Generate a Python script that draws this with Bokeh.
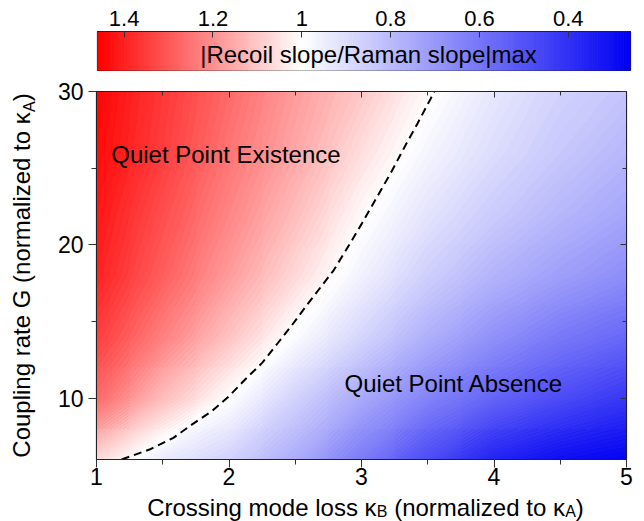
import numpy as np
from bokeh.plotting import figure
from bokeh.models import (Range1d, LinearColorMapper, SingleIntervalTicker, FixedTicker,
                          LinearAxis, Label, CustomJSTickFormatter, ColumnDataSource)
from bokeh.layouts import column, row
from bokeh.embed import file_html
from bokeh.resources import INLINE

# ---------------- data ----------------
kappa_b = [1.0, 1.5, 2.0, 2.5, 3.0, 3.5, 4.0, 4.5, 5.0]
coupling_g = [6, 10, 14, 18, 22, 26, 30]
ratio_g6 = [1.07, 0.94, 0.87, 0.76, 0.62, 0.48, 0.36, 0.30, 0.27]
ratio_g10 = [1.27, 1.12, 1.00, 0.87, 0.75, 0.64, 0.55, 0.48, 0.42]
ratio_g14 = [1.35, 1.23, 1.11, 0.99, 0.88, 0.77, 0.68, 0.61, 0.56]
ratio_g18 = [1.40, 1.29, 1.18, 1.07, 0.96, 0.86, 0.78, 0.72, 0.67]
ratio_g22 = [1.42, 1.32, 1.22, 1.12, 1.01, 0.92, 0.85, 0.79, 0.74]
ratio_g26 = [1.44, 1.35, 1.25, 1.16, 1.06, 0.97, 0.90, 0.84, 0.79]
ratio_g30 = [1.45, 1.36, 1.27, 1.18, 1.10, 1.01, 0.93, 0.87, 0.83]

boundary_kb = [1.19, 1.40, 1.58, 1.73, 1.87, 2.00, 2.12, 2.25, 2.36, 2.47, 2.59, 2.79,
               2.91, 3.00, 3.115, 3.23, 3.33, 3.42, 3.52, 3.55]
boundary_g = [6.0, 6.65, 7.41, 8.34, 9.15, 10.13, 11.2, 12.3, 13.5, 14.7, 16.1, 18.34,
              20.04, 21.35, 23.09, 24.83, 26.46, 27.87, 29.5, 30.0]

cbar_ticks = [1.4, 1.2, 1.0, 0.8, 0.6, 0.4]
cbar_tick_labels = ["1.4", "1.2", "1", "0.8", "0.6", "0.4"]
cbar_low, cbar_high = 0.26, 1.46
cbar_title = "|Recoil slope/Raman slope|max"

FONT = "Liberation Sans"
MID = 0.35  # rendered baseline sits this many em below a Label's anchor


# ---------------- colour map: blue -> white (at 1) -> red ----------------
def ramp(v):
    if v < 1.0:
        t = min(1.0, (1.0 - v) / (1.0 - cbar_low))
        r = g = int(round(255 * (1 - t)))
        b = int(round(255 - 12 * t))
    else:
        t = min(1.0, (v - 1.0) / (cbar_high - 1.0))
        r = 255
        g = b = int(round(255 * (1 - t)))
    return "#%02x%02x%02x" % (r, g, b)


N = 256
pal = [ramp(cbar_low + (i + 0.5) * (cbar_high - cbar_low) / N) for i in range(N)]
mapper = LinearColorMapper(palette=pal, low=cbar_low, high=cbar_high)

# ---------------- text width helper (Liberation Sans metrics) ----------------
W = {' ': 278, '(': 333, ')': 333, '/': 278, '|': 260, 'A': 667, 'B': 667, 'C': 722,
     'G': 778, 'a': 556, 'b': 556, 'c': 500, 'd': 556, 'e': 556, 'g': 556, 'i': 222,
     'l': 222, 'm': 833, 'n': 556, 'o': 556, 'p': 556, 'r': 333, 's': 500, 't': 278,
     'u': 556, 'x': 500, 'z': 500, 'κ': 512}


def tw(s, size):
    return sum(W.get(c, 556) for c in s) * size / 1000.0


# ---------------- colour-bar figure ----------------
cb = figure(width=640, height=79, x_range=Range1d(cbar_high, cbar_low), y_range=Range1d(0, 1),
            x_axis_location="above", y_axis_location=None, toolbar_location=None,
            output_backend="svg", min_border_left=97, min_border_right=10,
            min_border_top=31, min_border_bottom=9)
nq = 240
edges = np.linspace(cbar_low, cbar_high, nq + 1)
qsrc = ColumnDataSource(dict(left=edges[:-1], right=edges[1:], v=(edges[:-1] + edges[1:]) / 2))
cb.quad(left="left", right="right", bottom=0, top=1, source=qsrc,
        fill_color={"field": "v", "transform": mapper},
        line_color={"field": "v", "transform": mapper}, line_width=1)
cb.grid.visible = False
cb.outline_line_color = "#222222"
cb.outline_line_width = 1.2
ax = cb.xaxis[0]
ax.ticker = FixedTicker(ticks=cbar_ticks, minor_ticks=[])
ax.major_label_overrides = dict(zip(cbar_ticks, cbar_tick_labels))
ax.major_tick_in = 6
ax.major_tick_out = 0
ax.major_tick_line_color = "#333333"
ax.axis_line_color = "#222222"
ax.major_label_text_font = FONT
ax.major_label_text_font_size = "22px"
ax.major_label_text_color = "black"
ax.major_label_standoff = 6
# baseline at page y 62, frame bottom at 70
cb.add_layout(Label(x=cbar_high, y=0, x_offset=271, y_offset=(70 - 62) + MID * 24,
                    text=cbar_title, text_font=FONT, text_font_size="24px",
                    text_align="center", text_baseline="alphabetic", text_color="black"))

# ---------------- main figure ----------------
p = figure(width=596, height=414, x_range=Range1d(kappa_b[0], kappa_b[-1]),
           y_range=Range1d(coupling_g[0], coupling_g[-1]), toolbar_location=None,
           output_backend="svg", min_border_left=52, min_border_right=14,
           min_border_top=12, min_border_bottom=34)

grid = np.array([ratio_g6, ratio_g10, ratio_g14, ratio_g18, ratio_g22, ratio_g26, ratio_g30])
dx = kappa_b[1] - kappa_b[0]
dy = coupling_g[1] - coupling_g[0]
# coarse cells underneath (fill any seams), smooth filled contour bands on top
p.image(image=[grid], x=kappa_b[0] - dx / 2, y=coupling_g[0] - dy / 2,
        dw=dx * len(kappa_b), dh=dy * len(coupling_g), color_mapper=mapper)
levels = np.linspace(0.25, 1.47, 123)
band_colors = [ramp(0.5 * (levels[i] + levels[i + 1])) for i in range(len(levels) - 1)]
p.contour(x=kappa_b, y=coupling_g, z=grid, levels=levels, fill_color=band_colors,
          line_color=None)

p.line(boundary_kb, boundary_g, line_color="black", line_width=2, line_dash="8 5")

p.grid.visible = False
p.outline_line_color = "#222222"
p.outline_line_width = 1.2

xt = SingleIntervalTicker(interval=1, num_minor_ticks=2)
yt = SingleIntervalTicker(interval=10, num_minor_ticks=2)
p.xaxis.ticker = xt
p.yaxis.ticker = yt
for a in (p.xaxis[0], p.yaxis[0]):
    a.major_tick_out = 8
    a.major_tick_in = 0
    a.minor_tick_out = 5
    a.minor_tick_in = 0
    a.major_tick_line_color = "#333333"
    a.minor_tick_line_color = "#333333"
    a.axis_line_color = "#222222"
    a.major_label_text_font = FONT
    a.major_label_text_font_size = "23px"
    a.major_label_text_color = "black"
p.xaxis[0].major_label_standoff = 0
p.yaxis[0].major_label_standoff = 5

blank = CustomJSTickFormatter(code="return ''")
for loc, tk in (("above", xt), ("right", yt)):
    m = LinearAxis(ticker=tk, formatter=blank, major_tick_in=6, major_tick_out=0,
                   minor_tick_in=4, minor_tick_out=0, major_label_standoff=0,
                   major_label_text_font_size="1px", axis_line_color="#222222",
                   major_tick_line_color="#333333", minor_tick_line_color="#333333")
    p.add_layout(m, loc)

# annotation baselines (page px): 162 and 391; frame top 91, 368 px for 24 units
PXU = 368.0 / 24.0
for txt, xv, base in (("Quiet Point Existence", 1.111, 162.0), ("Quiet Point Absence", 2.872, 391.0)):
    yv = 30 - ((base - MID * 24) - 91) / PXU
    p.add_layout(Label(x=xv, y=yv, text=txt, text_font=FONT, text_font_size="24px",
                       text_color="black", text_baseline="alphabetic"))

# ---------------- axis titles (with subscripts); data units = page pixels ----------------
yfig = figure(width=44, height=414, x_range=Range1d(0, 44), y_range=Range1d(459, 91),
              x_axis_location=None, y_axis_location=None, toolbar_location=None,
              output_backend="svg", min_border_left=0, min_border_right=0,
              min_border_top=12, min_border_bottom=34)
yfig.grid.visible = False
yfig.outline_line_color = None
# (text, font px, baseline shift toward the text's "down" side, leading space)
yparts = [("Coupling rate G (normalized to κ", 24, 0, False), ("A", 16, 6, False),
          (")", 24, 0, False)]
total = sum(tw(s, f) for s, f, _, _ in yparts)
cur = 275 + total / 2
for s, f, sh, _ in yparts:
    yfig.add_layout(Label(x=29 + sh - MID * f, y=cur, text=s, text_font=FONT,
                          text_font_size="%dpx" % f, text_color="black", angle=np.pi / 2,
                          text_align="left", text_baseline="alphabetic"))
    cur -= tw(s, f)

xfig = figure(width=640, height=28, x_range=Range1d(97, 630), y_range=Range1d(521, 493),
              x_axis_location=None, y_axis_location=None, toolbar_location=None,
              output_backend="svg", min_border_left=97, min_border_right=10,
              min_border_top=0, min_border_bottom=0)
xfig.grid.visible = False
xfig.outline_line_color = None
xparts = [("Crossing mode loss κ", 24, 0, False), ("B", 16, 2, False),
          ("(normalized to κ", 24, 0, True), ("A", 16, 2, False), (")", 24, 0, False)]
total = sum(tw(s, f) + (tw(" ", f) if sp else 0) for s, f, _, sp in xparts)
cur = 365 - total / 2
for s, f, sh, sp in xparts:
    if sp:
        cur += tw(" ", f)
    xfig.add_layout(Label(x=cur, y=515 + sh - MID * f, text=s, text_font=FONT,
                          text_font_size="%dpx" % f, text_color="black",
                          text_align="left", text_baseline="alphabetic"))
    cur += tw(s, f)

layout = column(cb, row(yfig, p), xfig)
open("out.html", "w").write(file_html(layout, INLINE))
